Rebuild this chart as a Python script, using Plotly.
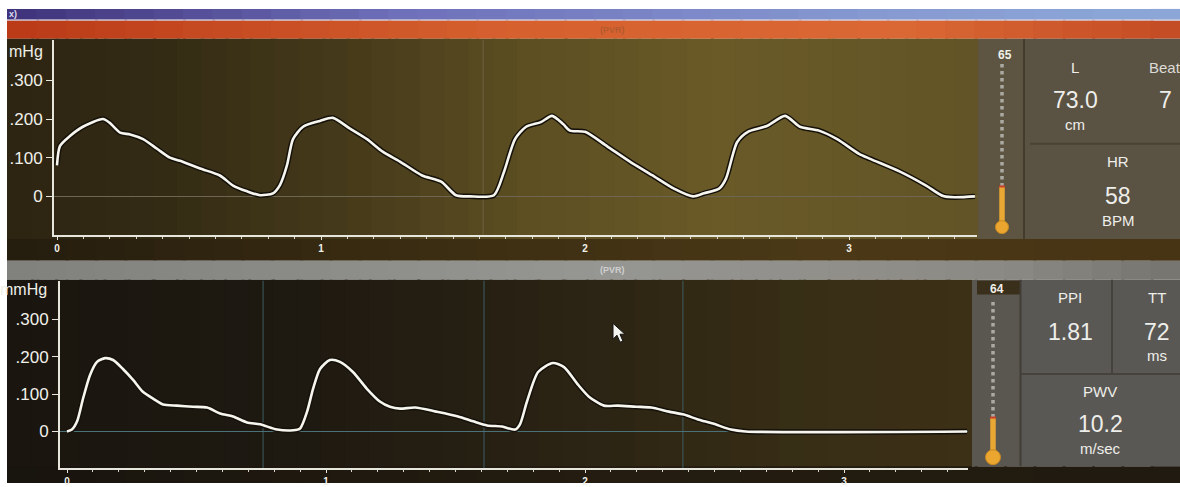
import plotly.graph_objects as go

W, H = 1180, 487

# ---------------- data ----------------
top_t = [0.0, 0.011, 0.049, 0.098, 0.174, 0.2, 0.239, 0.277, 0.326, 0.379, 0.428, 0.466,
         0.542, 0.617, 0.667, 0.72, 0.769, 0.818, 0.845, 0.871, 0.894, 0.932, 0.996, 1.045,
         1.11, 1.174, 1.235, 1.299, 1.383, 1.455, 1.511, 1.564, 1.655, 1.693, 1.735, 1.777,
         1.833, 1.875, 1.917, 1.943, 2.0, 2.083, 2.17, 2.254, 2.337, 2.409, 2.451, 2.508,
         2.534, 2.576, 2.617, 2.689, 2.758, 2.814, 2.886, 2.955, 3.038, 3.08, 3.193, 3.292,
         3.36, 3.477]
top_v = [0.08, 0.13, 0.156, 0.18, 0.2, 0.19, 0.165, 0.16, 0.148, 0.123, 0.1, 0.092,
         0.072, 0.054, 0.028, 0.013, 0.003, 0.008, 0.03, 0.08, 0.148, 0.18, 0.195, 0.203,
         0.175, 0.148, 0.115, 0.09, 0.054, 0.038, 0.003, 0.0, 0.003, 0.063, 0.148, 0.18,
         0.192, 0.208, 0.187, 0.17, 0.167, 0.13, 0.09, 0.055, 0.02, 0.0, 0.008, 0.02,
         0.046, 0.14, 0.167, 0.182, 0.208, 0.18, 0.17, 0.148, 0.11, 0.097, 0.064, 0.028,
         0.0, 0.0]

bot_t = [0.0, 0.019, 0.039, 0.062, 0.089, 0.116, 0.147, 0.178, 0.216, 0.255, 0.293, 0.332,
         0.371, 0.425, 0.486, 0.541, 0.591, 0.641, 0.695, 0.745, 0.811, 0.873, 0.9, 0.927,
         0.95, 0.977, 1.015, 1.054, 1.104, 1.158, 1.208, 1.247, 1.286, 1.344, 1.425, 1.51,
         1.568, 1.622, 1.68, 1.73, 1.749, 1.776, 1.819, 1.876, 1.919, 1.973, 2.015, 2.073,
         2.127, 2.197, 2.255, 2.324, 2.382, 2.436, 2.494, 2.564, 2.62, 3.475]
bot_v = [0.0, 0.005, 0.027, 0.088, 0.151, 0.186, 0.196, 0.191, 0.167, 0.138, 0.106, 0.088,
         0.072, 0.069, 0.066, 0.064, 0.048, 0.04, 0.024, 0.019, 0.005, 0.003, 0.008, 0.053,
         0.114, 0.167, 0.191, 0.186, 0.159, 0.114, 0.08, 0.066, 0.061, 0.064, 0.053, 0.04,
         0.027, 0.016, 0.013, 0.005, 0.019, 0.08, 0.159, 0.183, 0.172, 0.125, 0.093, 0.069,
         0.069, 0.066, 0.064, 0.053, 0.045, 0.032, 0.021, 0.005, 0.0, 0.0]

top_markers = [1.614]
bot_markers = [0.757, 1.61, 2.378]

y_tickvals = [0, 0.1, 0.2, 0.3]
y_ticktext = ["0", ".100", ".200", ".300"]
x_tickvals = [0, 1, 2, 3]
x_ticktext = ["0", "1", "2", "3"]

gauge_top = "65"
gauge_bot = "64"
info_top = [("L", "73.0", "cm"), ("Beat", "7", ""), ("HR", "58", "BPM")]
info_bot = [("PPI", "1.81", ""), ("TT", "72", "ms"), ("PWV", "10.2", "m/sec")]
panel_title = "(PVR)"
unit_top = "mHg"
unit_bot = "mmHg"


# ---------------- helpers ----------------
def X(px):
    return px / W


def Y(py):
    return 1 - py / H


shapes = []
annotations = []


def rect(x0, y0, x1, y1, color, layer="below", line=None):
    shapes.append(dict(type="rect", xref="paper", yref="paper",
                       x0=X(x0), x1=X(x1), y0=Y(y1), y1=Y(y0),
                       fillcolor=color, line=dict(width=0) if line is None else line,
                       layer=layer))


def hline(x0, x1, y, color, width=1, layer="below", dash="solid"):
    shapes.append(dict(type="line", xref="paper", yref="paper",
                       x0=X(x0), x1=X(x1), y0=Y(y), y1=Y(y),
                       line=dict(color=color, width=width, dash=dash), layer=layer))


def vline(x, y0, y1, color, width=1, layer="below", dash="solid"):
    shapes.append(dict(type="line", xref="paper", yref="paper",
                       x0=X(x), x1=X(x), y0=Y(y1), y1=Y(y0),
                       line=dict(color=color, width=width, dash=dash), layer=layer))


def lerp_color(stops, x):
    for (xa, ca), (xb, cb) in zip(stops[:-1], stops[1:]):
        if xa <= x <= xb:
            f = (x - xa) / (xb - xa) if xb > xa else 0
            c = [round(ca[i] + (cb[i] - ca[i]) * f) for i in range(3)]
            return "rgb(%d,%d,%d)" % tuple(c)
    c = stops[-1][1] if x > stops[-1][0] else stops[0][1]
    return "rgb(%d,%d,%d)" % tuple(c)


def gradient(x0, y0, x1, y1, stops, n=40):
    step = (x1 - x0) / n
    for i in range(n):
        a = x0 + i * step
        b = min(a + step + 3, x1)
        rect(a, y0, b, y1, lerp_color(stops, a + step / 2))


def text(px, py, s, size, color="#eeeeea", bold=False, xanchor="center", family="Liberation Sans, Arial"):
    annotations.append(dict(xref="paper", yref="paper", x=X(px), y=Y(py), text=("<b>%s</b>" % s) if bold else s,
                            showarrow=False, xanchor=xanchor, yanchor="middle",
                            font=dict(size=size, color=color, family=family)))


# ---------------- background chrome ----------------
rect(0, 0, W, H, "white")
# purple window strip
gradient(7, 9, 1180, 20, [(7, (62, 50, 122)), (400, (110, 112, 185)), (900, (135, 155, 210)), (1180, (140, 168, 215))])
hline(7, 1180, 20.5, "#d6cfdc", 1.5)
# orange header
gradient(7, 21, 1180, 39, [(7, (186, 58, 24)), (500, (214, 96, 46)), (900, (218, 104, 52)), (1180, (196, 76, 36))])
# top plot background
gradient(7, 39, 978, 241, [(7, (44, 36, 18)), (150, (50, 42, 20)), (350, (70, 58, 26)),
                            (520, (92, 78, 34)), (720, (106, 90, 40)), (978, (98, 84, 38))])
# band between panels
gradient(7, 241, 1180, 263, [(7, (36, 28, 14)), (400, (58, 44, 18)), (800, (74, 56, 22)), (1180, (70, 52, 20))])
# gray header of bottom panel
gradient(7, 263, 1180, 282, [(7, (128, 128, 126)), (600, (150, 150, 146)), (1000, (140, 138, 132)), (1180, (118, 116, 110))])
# bottom plot background
gradient(7, 282, 972, 472, [(7, (26, 22, 15)), (300, (30, 25, 17)), (600, (44, 36, 20)),
                             (800, (56, 46, 22)), (972, (60, 48, 22))])
# bottom strip
gradient(7, 470, 1180, 487, [(7, (24, 20, 14)), (600, (36, 28, 16)), (1180, (32, 26, 16))])

# top right panels
rect(978, 39, 1023, 241, "#5d5542")
rect(1025, 39, 1180, 241, "#5a5243")
hline(1030, 1180, 145, "#4a4334", 2)
vline(1024, 39, 241, "#433c2e", 2)
# bottom right panels
rect(972, 282, 1020, 470, "#5a5650")
rect(977, 283, 1021, 297, "#3a2f1a")
rect(1021, 282, 1180, 470, "#5a5854")
vline(1020.5, 282, 470, "#403c36", 2)
vline(1112, 282, 377, "#45413b", 2)
hline(1021, 1180, 377, "#45413b", 2)

# thermometers
for cx, ytop, ylvl, ybulb, r in [(1002, 64, 188, 229, 6.5), (993, 302, 421, 461, 7.5)]:
    vline(cx, ytop, ylvl, "#aaa9a2", 3.5, dash="dot")
    vline(cx, ylvl, ybulb, "#e9a733", 5.5)
    hline(cx - 3, cx + 3, ylvl, "#c8402a", 2)
    shapes.append(dict(type="circle", xref="paper", yref="paper",
                       x0=X(cx - r), x1=X(cx + r), y0=Y(ybulb + r), y1=Y(ybulb - r),
                       fillcolor="#eaa62e", line=dict(color="#c98a22", width=1), layer="below"))

# mouse cursor (drawn as decoration)
cur = [(613, 326), (613, 342), (617, 338), (620, 345), (623, 344), (620, 337), (625, 337)]
path = "M " + " L ".join("%f,%f" % (X(a), Y(b)) for a, b in cur) + " Z"
shapes.append(dict(type="path", xref="paper", yref="paper", path=path,
                   fillcolor="#f4f4f0", line=dict(color="#111", width=1), layer="above"))

# ---------------- texts ----------------
text(7, 14, "x)", 9, "#dcdcf0", bold=True, xanchor="left")
text(612, 30, panel_title, 9, "#b45a2e", bold=True)
text(612, 272, panel_title, 9, "#cfcfcf", bold=True)
text(7, 52, unit_top, 16, "#efefe8", xanchor="left")
text(49, 292, unit_bot, 16, "#efefe8", xanchor="right")

text(1005, 55, gauge_top, 12, "#f0f0ea", bold=True)
text(997, 291, gauge_bot, 12, "#f0f0ea", bold=True)

lab, val, unit = info_top[0]
text(1075, 68, lab, 15)
text(1075, 101, val, 23)
text(1075, 126, unit, 15)
lab, val, unit = info_top[1]
text(1147, 68, lab, 15, "#dcdcd6", xanchor="left")
text(1165, 101, val, 23)
lab, val, unit = info_top[2]
text(1118, 163, lab, 15)
text(1118, 198, val, 23)
text(1118, 222, unit, 15)

lab, val, unit = info_bot[0]
text(1070, 300, lab, 15)
text(1070, 335, val, 23)
lab, val, unit = info_bot[1]
text(1157, 300, lab, 15)
text(1157, 335, val, 23)
text(1157, 358, unit, 15)
lab, val, unit = info_bot[2]
text(1100, 395, lab, 15)
text(1100, 428, val, 23)
text(1100, 452, unit, 15)

# ---------------- figure ----------------
fig = go.Figure()

for t, v, xa, ya in [(top_t, top_v, "x", "y"), (bot_t, bot_v, "x2", "y2")]:
    fig.add_trace(go.Scatter(x=t, y=v, xaxis=xa, yaxis=ya, mode="lines",
                             line=dict(color="#15110a", width=5.5, shape="spline", smoothing=0.7),
                             hoverinfo="skip", showlegend=False))
    fig.add_trace(go.Scatter(x=t, y=v, xaxis=xa, yaxis=ya, mode="lines",
                             line=dict(color="#f6f6ee", width=2.6, shape="spline", smoothing=0.7),
                             showlegend=False))

for m in top_markers:
    shapes.append(dict(type="line", xref="x", yref="y domain", x0=m, x1=m, y0=0, y1=1,
                       line=dict(color="rgba(150,150,130,0.35)", width=1), layer="below"))
for m in bot_markers:
    shapes.append(dict(type="line", xref="x2", yref="y2 domain", x0=m, x1=m, y0=0, y1=1,
                       line=dict(color="#3d5d62", width=1), layer="below"))

common_x = dict(showgrid=False, zeroline=False, showline=True, linecolor="#e6e6dc", linewidth=2,
                tickmode="array", tickvals=x_tickvals, ticktext=x_ticktext,
                ticks="outside", ticklen=3, tickcolor="#e6e6dc", tickwidth=1,
                tickfont=dict(size=10, color="#f0f0ea", family="Liberation Sans, Arial", weight="bold"),
                minor=dict(dtick=0.1, ticks="outside", ticklen=2, tickcolor="#d8d8d0", tickwidth=1),
                fixedrange=True)
common_y = dict(showgrid=False, zeroline=True, zerolinewidth=1, showline=True,
                linecolor="#e6e6dc", linewidth=2,
                tickmode="array", tickvals=y_tickvals, ticktext=y_ticktext,
                ticks="outside", ticklen=6, tickcolor="#e6e6dc", tickwidth=1,
                tickfont=dict(size=17, color="#f0f0ea", family="Liberation Sans, Arial"),
                fixedrange=True)

fig.update_layout(
    width=W, height=H, autosize=False,
    margin=dict(l=0, r=0, t=0, b=0, pad=0),
    paper_bgcolor="white", plot_bgcolor="rgba(0,0,0,0)",
    showlegend=False,
    xaxis=dict(domain=[X(54), X(977)], range=[(54 - 57) / 264, (977 - 57) / 264], anchor="y", **common_x),
    yaxis=dict(domain=[Y(237), Y(40)], range=[(198 - 237) / 390, (198 - 40) / 390], anchor="x",
               zerolinecolor="#6c6652", **common_y),
    xaxis2=dict(domain=[X(60), X(968)], range=[(60 - 67) / 259, (968 - 67) / 259], anchor="y2", **common_x),
    yaxis2=dict(domain=[Y(472), Y(283)], range=[(435 - 472) / 377, (435 - 283) / 377], anchor="x2",
                zerolinecolor="#4a7078", **common_y),
    shapes=shapes,
    annotations=annotations,
)

fig.write_html("out.html", config={"displayModeBar": False},
               post_script="document.body.style.margin='0px';document.body.style.overflow='hidden';")
